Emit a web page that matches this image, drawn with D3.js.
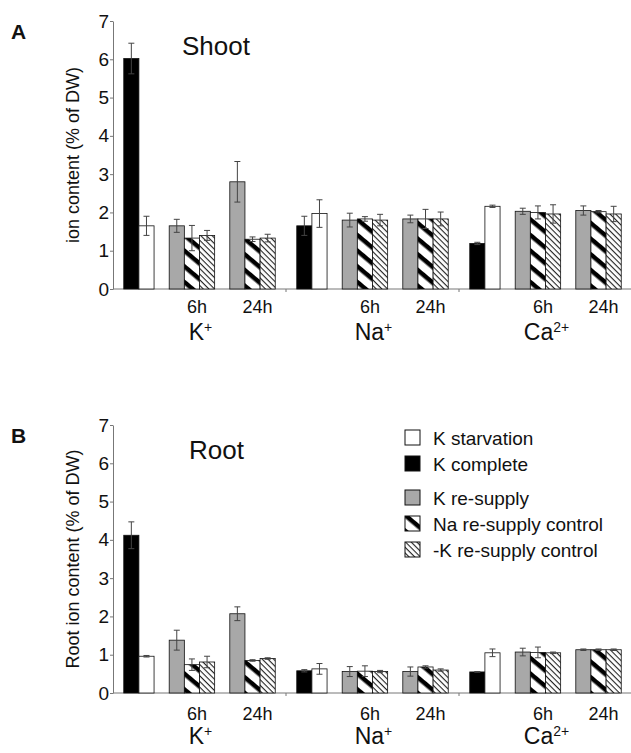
<!DOCTYPE html>
<html lang="en">
  <head>
    <meta charset="utf-8"/>
    <title>Ion content</title>
    <script src="https://d3js.org/d3.v7.min.js"></script>
    <style>
      body { margin: 0; background: #fff; }
      svg { display: block; font-family: "Liberation Sans", Arial, sans-serif; }
    </style>
  </head>
  <body>
    <div id="chart"></div>
    <script>
    // categories
    var ions = ["K", "Na", "Ca"];
    var ionLabels = [["K", "+"], ["Na", "+"], ["Ca", "2+"]];
    var barSeries = ["complete", "starvation", "resupply", "naControl", "minusK", "resupply", "naControl", "minusK"];
    var barSlots = [0, 1, 3, 4, 5, 7, 8, 9];
    var timeLabels = ["6h", "24h"];
    var yTicks = [0, 1, 2, 3, 4, 5, 6, 7];

    // shoot values (% of DW), order as barSeries
    var shootK = [6.02, 1.65, 1.65, 1.33, 1.40, 2.80, 1.30, 1.33];
    var shootKErr = [0.40, 0.25, 0.17, 0.33, 0.13, 0.53, 0.06, 0.10];
    var shootNa = [1.65, 1.97, 1.80, 1.83, 1.80, 1.83, 1.83, 1.83];
    var shootNaErr = [0.25, 0.36, 0.18, 0.06, 0.15, 0.10, 0.25, 0.18];
    var shootCa = [1.19, 2.16, 2.03, 2.00, 1.96, 2.05, 2.02, 1.96];
    var shootCaErr = [0.03, 0.03, 0.08, 0.17, 0.24, 0.12, 0.03, 0.20];

    // root values
    var rootK = [4.12, 0.96, 1.38, 0.74, 0.81, 2.07, 0.85, 0.90];
    var rootKErr = [0.35, 0.02, 0.26, 0.15, 0.15, 0.18, 0.02, 0.02];
    var rootNa = [0.58, 0.63, 0.56, 0.57, 0.56, 0.56, 0.68, 0.60];
    var rootNaErr = [0.03, 0.14, 0.13, 0.14, 0.03, 0.12, 0.03, 0.03];
    var rootCa = [0.55, 1.05, 1.07, 1.06, 1.05, 1.13, 1.13, 1.13];
    var rootCaErr = [0.01, 0.10, 0.10, 0.14, 0.02, 0.02, 0.02, 0.02];

    var legendKeys = ["starvation", "complete", "resupply", "naControl", "minusK"];
    var legendNames = ["K starvation", "K complete", "K re-supply", "Na re-supply control", "-K re-supply control"];

    var width = 631, height = 753;
    var fills = {
      complete: "#000",
      starvation: "#fff",
      resupply: "#a8a8a8",
      naControl: "url(#boldStripe)",
      minusK: "url(#fineHatch)"
    };

    var svg = d3.select("#chart").append("svg")
        .attr("width", width)
        .attr("height", height);

    var defs = svg.append("defs");
    var bold = defs.append("pattern")
        .attr("id", "boldStripe")
        .attr("patternUnits", "userSpaceOnUse")
        .attr("width", 12).attr("height", 12)
        .attr("patternTransform", "rotate(40)");
    bold.append("rect").attr("width", 12).attr("height", 12).attr("fill", "#fff");
    bold.append("rect").attr("width", 12).attr("height", 4.5).attr("fill", "#000");

    var fine = defs.append("pattern")
        .attr("id", "fineHatch")
        .attr("patternUnits", "userSpaceOnUse")
        .attr("width", 4).attr("height", 4)
        .attr("patternTransform", "rotate(45)");
    fine.append("rect").attr("width", 4).attr("height", 4).attr("fill", "#fff");
    fine.append("rect").attr("width", 4).attr("height", 1.1).attr("fill", "#222");

    var x = d3.scaleBand().domain(ions).range([113, 632]);
    var xSlot = d3.scaleBand().domain(d3.range(10)).range([0, x.bandwidth()]).paddingOuter(0.71);

    function drawPanel(opt)
    {
      var y = d3.scaleLinear().domain([0, 7]).range([opt.y0, opt.y0 - 268]);
      var g = svg.append("g");

      // y axis
      var yAxis = g.append("g")
          .attr("transform", "translate(113,0)")
          .call(d3.axisLeft(y).tickValues(yTicks).tickFormat(d3.format("d"))
            .tickSize(3).tickSizeOuter(0).tickPadding(1));
      yAxis.select(".domain").attr("stroke", "#777");
      yAxis.selectAll(".tick line").attr("stroke", "#777");
      yAxis.selectAll("text").attr("font-size", 19).attr("fill", "#111")
          .attr("font-family", "Liberation Sans, Arial, sans-serif");

      // x axis line and group separators
      g.append("line")
          .attr("x1", 113).attr("x2", 632)
          .attr("y1", y(0)).attr("y2", y(0))
          .attr("stroke", "#777");
      g.selectAll(".sep").data(ions.slice(1)).enter().append("line")
          .attr("x1", function(d) { return x(d); })
          .attr("x2", function(d) { return x(d); })
          .attr("y1", y(0)).attr("y2", y(0) + 3)
          .attr("stroke", "#777");

      ions.forEach(function(ion, i)
      {
        var vals = opt.values[i], errs = opt.errors[i];
        var gi = g.append("g").attr("transform", "translate(" + x(ion) + ",0)");
        var data = vals.map(function(v, j) { return {v: v, e: errs[j], s: barSeries[j], slot: barSlots[j]}; });

        gi.selectAll("rect").data(data).enter().append("rect")
            .attr("x", function(d) { return xSlot(d.slot); })
            .attr("width", xSlot.bandwidth())
            .attr("y", function(d) { return y(d.v); })
            .attr("height", function(d) { return y(0) - y(d.v); })
            .attr("fill", function(d) { return fills[d.s]; })
            .attr("stroke", "#111")
            .attr("stroke-width", 0.8);

        var eb = gi.selectAll(".err").data(data).enter().append("g")
            .attr("stroke", "#444").attr("stroke-width", 1);
        eb.append("line")
            .attr("x1", function(d) { return xSlot(d.slot) + xSlot.bandwidth() / 2; })
            .attr("x2", function(d) { return xSlot(d.slot) + xSlot.bandwidth() / 2; })
            .attr("y1", function(d) { return y(d.v + d.e); })
            .attr("y2", function(d) { return y(d.v - d.e); });
        [1, -1].forEach(function(sign)
        {
          eb.append("line")
              .attr("x1", function(d) { return xSlot(d.slot) + xSlot.bandwidth() / 2 - 3; })
              .attr("x2", function(d) { return xSlot(d.slot) + xSlot.bandwidth() / 2 + 3; })
              .attr("y1", function(d) { return y(d.v + sign * d.e); })
              .attr("y2", function(d) { return y(d.v + sign * d.e); });
        });

        // time labels
        [4, 8].forEach(function(slot, k)
        {
          gi.append("text")
              .attr("x", xSlot(slot) + xSlot.bandwidth() / 2 + 5)
              .attr("y", y(0) + opt.timeDy)
              .attr("text-anchor", "middle")
              .attr("font-size", 18)
              .attr("fill", "#111")
              .text(timeLabels[k]);
        });

        // ion label
        var t = gi.append("text")
            .attr("x", x.bandwidth() / 2 + 1)
            .attr("y", y(0) + 51)
            .attr("text-anchor", "middle")
            .attr("font-size", 23)
            .attr("fill", "#111");
        t.append("tspan").text(ionLabels[i][0]);
        t.append("tspan").attr("dy", -8).attr("font-size", 14).text(ionLabels[i][1]);
      });

      // titles
      g.append("text")
          .attr("x", opt.titleX).attr("y", opt.y0 - 234)
          .attr("font-size", 26).attr("fill", "#111")
          .text(opt.title);
      g.append("text")
          .attr("x", 11).attr("y", opt.y0 - 250)
          .attr("font-size", 21).attr("font-weight", "bold").attr("fill", "#111")
          .text(opt.letter);
      g.append("text")
          .attr("transform", "translate(79," + (opt.y0 - 134) + ") rotate(-90)")
          .attr("text-anchor", "middle")
          .attr("font-size", 18).attr("fill", "#111")
          .text(opt.yTitle);
    }

    drawPanel({
      y0: 289, title: "Shoot", titleX: 182, letter: "A", timeDy: 24,
      yTitle: "ion content (% of DW)",
      values: [shootK, shootNa, shootCa],
      errors: [shootKErr, shootNaErr, shootCaErr]
    });
    drawPanel({
      y0: 693, title: "Root", titleX: 189, letter: "B", timeDy: 27,
      yTitle: "Root ion content (% of DW)",
      values: [rootK, rootNa, rootCa],
      errors: [rootKErr, rootNaErr, rootCaErr]
    });

    // legend
    var legend = svg.append("g");
    var legendY = [438, 464, 498, 524, 550];
    legendKeys.forEach(function(k, i)
    {
      legend.append("rect")
          .attr("x", 405).attr("y", legendY[i] - 8)
          .attr("width", 15).attr("height", 15)
          .attr("fill", fills[k])
          .attr("stroke", "#111").attr("stroke-width", 1);
      legend.append("text")
          .attr("x", 433).attr("y", legendY[i] + 7)
          .attr("font-size", 19).attr("fill", "#111")
          .text(legendNames[i]);
    });
    </script>
  </body>
</html>
